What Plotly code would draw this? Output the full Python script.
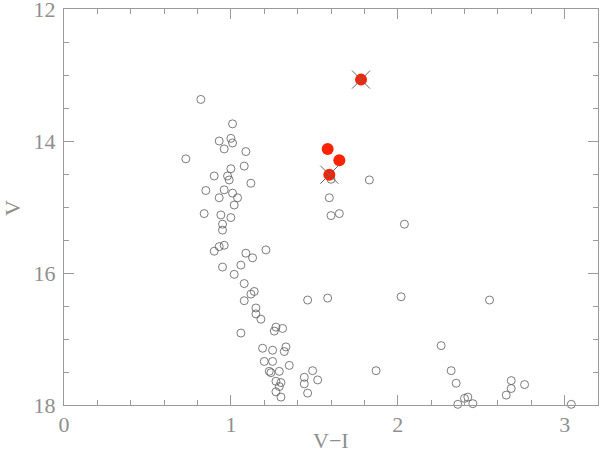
import plotly.graph_objects as go

# Open-circle stars (V-I, V)
vi_open = [0.82, 1.01, 1.00, 0.93, 1.01, 0.96, 1.09, 0.73, 1.08, 1.00,
           0.90, 0.98, 0.99, 1.12, 0.96, 0.85, 1.01, 0.93, 1.04, 1.02,
           0.84, 0.94, 1.00, 0.95, 0.95, 0.96, 0.93, 0.90, 1.09, 1.13,
           1.21, 0.95, 1.06, 1.02, 1.08, 1.14, 1.12, 1.08, 1.46, 1.58,
           1.15, 1.15, 1.18, 1.27, 1.31, 1.26, 1.06, 1.19, 1.25, 1.33,
           1.32, 1.20, 1.25, 1.35, 1.23, 1.24, 1.29, 1.49, 1.44, 1.52,
           1.44, 1.27, 1.30, 1.29, 1.27, 1.30, 1.46, 1.60, 1.83, 1.59,
           1.60, 1.65, 2.04, 2.02, 2.26, 1.87, 2.32, 2.35, 2.36, 2.40,
           2.42, 2.45, 2.68, 2.68, 2.65, 2.76, 3.04, 2.55]
v_open = [13.37, 13.74, 13.96, 14.00, 14.03, 14.12, 14.16, 14.27, 14.38, 14.42,
          14.53, 14.53, 14.59, 14.64, 14.74, 14.75, 14.79, 14.86, 14.86, 14.97,
          15.10, 15.12, 15.16, 15.26, 15.35, 15.58, 15.60, 15.67, 15.70, 15.77,
          15.65, 15.91, 15.88, 16.02, 16.16, 16.28, 16.32, 16.42, 16.41, 16.38,
          16.53, 16.62, 16.70, 16.82, 16.84, 16.88, 16.91, 17.14, 17.17, 17.12,
          17.19, 17.34, 17.34, 17.40, 17.49, 17.51, 17.49, 17.48, 17.58, 17.62,
          17.68, 17.64, 17.66, 17.72, 17.80, 17.88, 17.82, 14.58, 14.59, 14.86,
          15.13, 15.10, 15.26, 16.36, 17.10, 17.48, 17.48, 17.67, 17.99, 17.90,
          17.88, 17.98, 17.63, 17.75, 17.85, 17.69, 17.99, 16.41]

# Red filled stars
vi_red = [1.78, 1.58, 1.65, 1.59]
v_red = [13.07, 14.12, 14.29, 14.51]

# Crossed stars (subset of red)
vi_cross = [1.78, 1.59]
v_cross = [13.07, 14.51]

x_ticks = [0, 1, 2, 3]
y_ticks = [12, 14, 16, 18]

font = "Liberation Serif"
gray = "#8f8f8f"
axc = "#9a9a9a"

W, H = 600, 453
ML, MR, MT, MB = 64, 2, 9, 48
pw, ph = W - ML - MR, H - MT - MB

fig = go.Figure()
fig.add_trace(go.Scatter(
    x=vi_open, y=v_open, mode="markers", cliponaxis=False,
    marker=dict(symbol="circle-open", size=8, color="#5a5a5a", line=dict(width=0.8)),
    showlegend=False))
fig.add_trace(go.Scatter(
    x=vi_red, y=v_red, mode="markers", cliponaxis=False,
    marker=dict(symbol="circle", size=12, color="#ff2200", line=dict(width=0)),
    showlegend=False))
fig.add_trace(go.Scatter(
    x=vi_cross, y=v_cross, mode="markers", cliponaxis=False,
    marker=dict(symbol="x-thin-open", size=18, color="#666666", line=dict(width=1, color="#666666")),
    showlegend=False))

axis_common = dict(
    showgrid=False, zeroline=False, showline=True, linecolor=axc, linewidth=1,
    mirror="ticks", ticks="inside", ticklen=10, tickcolor=axc, tickwidth=1,
    tickfont=dict(family=font, size=22, color=gray), automargin=False,
    ticklabeloverflow="allow",
)

fig.update_layout(
    width=W, height=H,
    margin=dict(l=ML, r=MR, t=MT, b=MB),
    paper_bgcolor="white", plot_bgcolor="white",
    xaxis=dict(range=[0, 3.2], tickvals=x_ticks, ticktext=[str(t) for t in x_ticks],
               minor=dict(dtick=0.2, tick0=0, ticks="inside", ticklen=5, tickcolor=axc),
               ticklabelstandoff=0,
               **axis_common),
    yaxis=dict(range=[18, 12], tickvals=y_ticks, ticktext=[str(t) for t in y_ticks],
               minor=dict(dtick=0.5, tick0=12, ticks="inside", ticklen=5, tickcolor=axc),
               ticklabelstandoff=3,
               **axis_common),
    annotations=[
        dict(text="V", x=(13 - ML) / pw, y=1 - (208 - MT) / ph, xref="paper", yref="paper",
             showarrow=False, xanchor="center", yanchor="middle", textangle=-90,
             font=dict(family=font, size=22, color=gray)),
        dict(text="V−I", x=(331 - ML) / pw, y=1 - (440 - MT) / ph, xref="paper", yref="paper",
             showarrow=False, xanchor="center", yanchor="middle",
             font=dict(family=font, size=22, color=gray)),
    ],
)

fig.write_html(
    "out.html",
    config={"displayModeBar": False, "staticPlot": True},
    post_script="document.body.style.margin='0';document.body.style.overflow='hidden';",
)
